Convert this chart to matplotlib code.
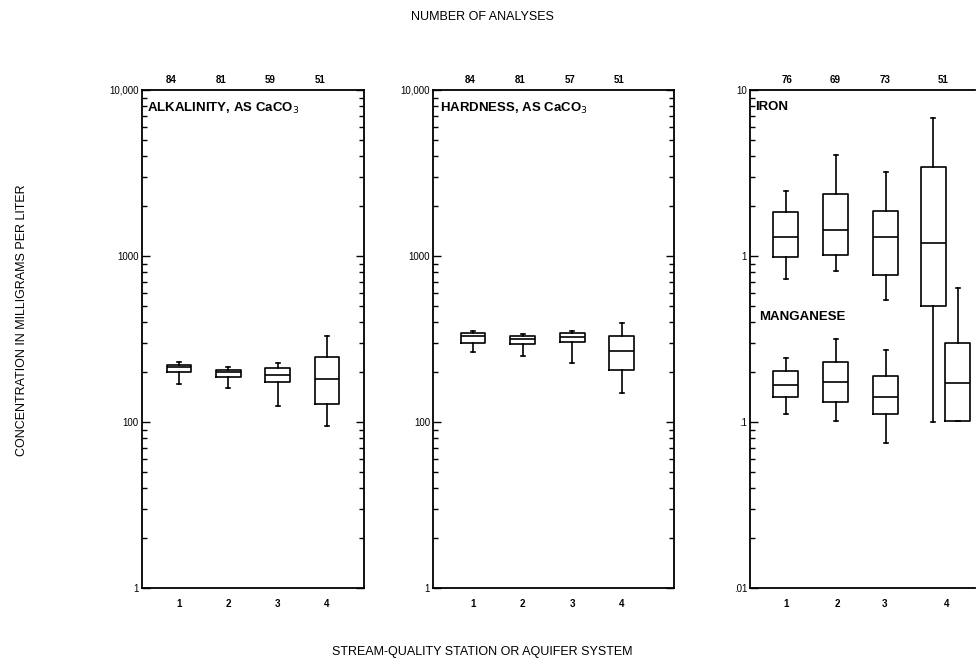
import matplotlib
matplotlib.use("Agg")
import matplotlib.pyplot as plt
import numpy as np
from matplotlib.ticker import LogLocator, FixedLocator, FixedFormatter, NullFormatter
from matplotlib.transforms import blended_transform_factory

plt.rcParams['font.family'] = ['Liberation Sans', 'DejaVu Sans']

stations = ["1", "2", "3", "4"]

# Alkalinity, as CaCO3 (mg/L)
alk_whishi = [231, 213, 226, 330]
alk_q3 = [220, 207, 210, 245]
alk_med = [215, 199, 192, 182]
alk_q1 = [200, 187, 175, 129]
alk_whislo = [169, 160, 125, 94]
alk_n = [84, 81, 59, 51]

# Hardness, as CaCO3 (mg/L)
hard_whishi = [355, 337, 353, 393]
hard_q3 = [342, 331, 345, 331]
hard_med = [330, 315, 324, 267]
hard_q1 = [301, 294, 303, 206]
hard_whislo = [265, 251, 226, 149]
hard_n = [84, 81, 57, 51]

# Iron (mg/L)
iron_whishi = [2.47, 4.06, 3.22, 6.75]
iron_q3 = [1.83, 2.37, 1.87, 3.45]
iron_med = [1.31, 1.43, 1.31, 1.20]
iron_q1 = [0.99, 1.01, 0.77, 0.50]
iron_whislo = [0.73, 0.81, 0.54, 0.10]
iron_n = [76, 69, 73, 51]

# Manganese (mg/L)
mn_whishi = [0.243, 0.315, 0.273, 0.638]
mn_q3 = [0.202, 0.231, 0.190, 0.301]
mn_med = [0.167, 0.173, 0.142, 0.171]
mn_q1 = [0.142, 0.132, 0.111, 0.101]
mn_whislo = [0.112, 0.102, 0.0744, 0.101]

def make_stats(lo, q1, med, q3, hi):
    return [dict(whislo=a, q1=b, med=c, q3=d, whishi=e, fliers=[])
            for a, b, c, d, e in zip(lo, q1, med, q3, hi)]

fig = plt.figure(figsize=(9.76, 6.64), dpi=100)
bottom, height = 0.1145, 0.750
ax1 = fig.add_axes([0.1452, bottom, 0.2278, height])
ax2 = fig.add_axes([0.4436, bottom, 0.2469, height])
ax3 = fig.add_axes([0.7684, bottom, 0.2305, height])

lw = 1.2
props = dict(boxprops=dict(color='black', linewidth=lw),
             medianprops=dict(color='black', linewidth=lw),
             whiskerprops=dict(color='black', linewidth=lw),
             capprops=dict(color='black', linewidth=lw))

pos = np.arange(1, 5)

def style_axis(ax, ylim, ticks, ticklabels, xlim, xticks):
    ax.set_yscale('log')
    ax.set_ylim(*ylim)
    ax.set_xlim(*xlim)
    ax.yaxis.set_major_locator(FixedLocator(ticks))
    ax.yaxis.set_major_formatter(FixedFormatter(ticklabels))
    ax.yaxis.set_minor_locator(LogLocator(base=10, subs=np.arange(2, 10)))
    ax.yaxis.set_minor_formatter(NullFormatter())
    ax.tick_params(axis='y', which='both', direction='in', left=True, right=True,
                   labelsize=7, pad=2, width=1)
    ax.tick_params(axis='y', which='major', length=6)
    ax.tick_params(axis='y', which='minor', length=3.5)
    ax.set_xticks(xticks)
    ax.set_xticklabels(stations, fontsize=7, fontweight='bold')
    ax.tick_params(axis='x', length=0, pad=8)
    for s in ax.spines.values():
        s.set_linewidth(1.3)

title_fs = 9.5
count_fs = 7

# Panel 1: alkalinity
ax1.bxp(make_stats(alk_whislo, alk_q1, alk_med, alk_q3, alk_whishi),
        positions=pos, widths=0.5, capwidths=0.08, **props)
style_axis(ax1, (10, 10000), [10, 100, 1000, 10000], ["1", "100", "1000", "10,000"],
           (0.243, 4.75), pos)
ax1.text(0.025, 0.978, r"ALKALINITY, AS CaCO$_3$", transform=ax1.transAxes,
         fontsize=title_fs, fontweight='bold', va='top', ha='left')
tr = blended_transform_factory(ax1.transData, ax1.transAxes)
for p, n in zip(pos, alk_n):
    ax1.text(p - 0.15, 1.01, str(n), transform=tr, fontsize=count_fs, fontweight='bold',
             ha='center', va='bottom')

# Panel 2: hardness
ax2.bxp(make_stats(hard_whislo, hard_q1, hard_med, hard_q3, hard_whishi),
        positions=pos, widths=0.5, capwidths=0.08, **props)
style_axis(ax2, (10, 10000), [10, 100, 1000, 10000], ["1", "100", "1000", "10,000"],
           (0.195, 5.05), pos)
ax2.text(0.03, 0.978, r"HARDNESS, AS CaCO$_3$", transform=ax2.transAxes,
         fontsize=title_fs, fontweight='bold', va='top', ha='left')
tr = blended_transform_factory(ax2.transData, ax2.transAxes)
for p, n in zip(pos, hard_n):
    ax2.text(p - 0.05, 1.01, str(n), transform=tr, fontsize=count_fs, fontweight='bold',
             ha='center', va='bottom')

# Panel 3: iron and manganese
iron_pos = np.array([1.0, 2.0, 3.0, 3.95])
mn_pos = np.array([1.0, 2.0, 3.0, 4.44])
tick3 = [1.0, 2.02, 2.98, 4.22]
ax3.bxp(make_stats(iron_whislo, iron_q1, iron_med, iron_q3, iron_whishi),
        positions=iron_pos, widths=0.5, capwidths=0.08, **props)
ax3.bxp(make_stats(mn_whislo, mn_q1, mn_med, mn_q3, mn_whishi),
        positions=mn_pos, widths=0.5, capwidths=0.08, **props)
style_axis(ax3, (0.01, 10), [0.01, 0.1, 1, 10], [".01", ".1", "1", "10"],
           (0.28, 4.78), tick3)
ax3.spines['right'].set_visible(False)
ax3.tick_params(axis='y', which='both', right=False)
ax3.text(0.025, 0.978, "IRON", transform=ax3.transAxes,
         fontsize=title_fs, fontweight='bold', va='top', ha='left')
ax3.text(0.04, 0.545, "MANGANESE", transform=ax3.transAxes,
         fontsize=title_fs, fontweight='bold', va='center', ha='left')
tr = blended_transform_factory(ax3.transData, ax3.transAxes)
for p, n in zip([1.02, 1.98, 2.98, 4.14], iron_n):
    ax3.text(p, 1.01, str(n), transform=tr, fontsize=count_fs, fontweight='bold',
             ha='center', va='bottom')

fig.text(0.494, 0.974, "NUMBER OF ANALYSES", fontsize=9, ha='center', va='center')
fig.text(0.494, 0.018, "STREAM-QUALITY STATION OR AQUIFER SYSTEM", fontsize=9,
         ha='center', va='center')
fig.text(0.023, 0.518, "CONCENTRATION IN MILLIGRAMS PER LITER", fontsize=9,
         ha='center', va='center', rotation=90)

fig.savefig("out.png", dpi=100)
